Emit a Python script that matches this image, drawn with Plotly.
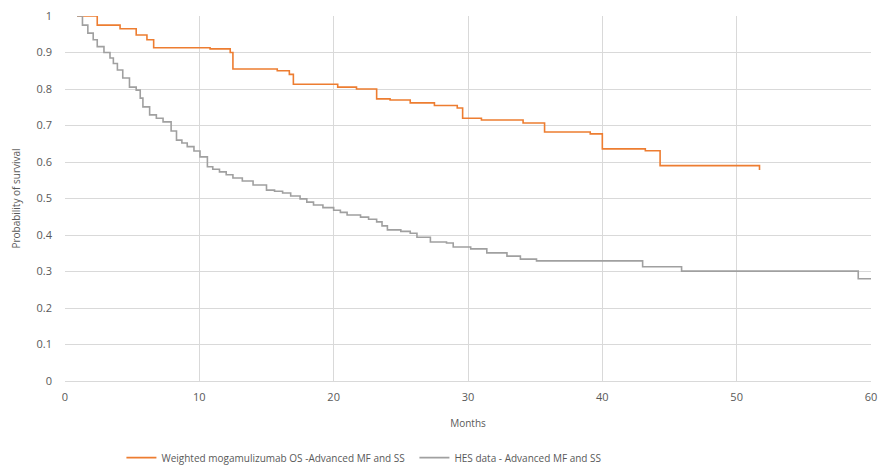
import plotly.graph_objects as go

orange_months = [0.9, 2.4, 4.1, 5.3, 6.1, 6.6, 10.8, 12.3, 12.5, 15.8, 16.7, 17.0, 20.3, 21.7,
                 23.2, 24.2, 25.7, 27.5, 29.2, 29.6, 31.0, 34.1, 35.7, 39.1, 40.0, 43.2, 44.3, 51.7]
orange_surv = [1.0, 0.975, 0.965, 0.948, 0.935, 0.913, 0.91, 0.90, 0.855, 0.85, 0.84, 0.813, 0.805, 0.80,
               0.773, 0.77, 0.762, 0.755, 0.748, 0.72, 0.715, 0.707, 0.682, 0.677, 0.636, 0.631, 0.59, 0.578]

gray_months = [0.9, 1.3, 1.7, 2.1, 2.4, 2.9, 3.35, 3.6, 3.9, 4.3, 4.8, 5.3, 5.6, 5.8, 6.3, 6.8, 7.3,
               7.9, 8.3, 8.7, 9.1, 9.6, 10.05, 10.6, 11.0, 11.5, 12.0, 12.5, 13.2, 14.0, 15.0, 15.6,
               16.2, 16.8, 17.5, 18.0, 18.5, 19.2, 20.0, 20.5, 21.0, 22.0, 22.6, 23.2, 23.6, 24.0,
               25.0, 25.7, 26.2, 27.2, 28.4, 28.9, 30.2, 31.4, 32.9, 33.9, 35.1, 43.0, 45.9, 59.05, 60.0]
gray_surv = [1.0, 0.975, 0.953, 0.935, 0.916, 0.90, 0.885, 0.87, 0.852, 0.83, 0.805, 0.797, 0.775,
             0.751, 0.729, 0.72, 0.71, 0.685, 0.66, 0.652, 0.642, 0.63, 0.614, 0.587, 0.58, 0.573,
             0.565, 0.556, 0.548, 0.537, 0.523, 0.52, 0.515, 0.507, 0.499, 0.49, 0.482, 0.475, 0.468,
             0.462, 0.455, 0.449, 0.443, 0.436, 0.425, 0.414, 0.41, 0.405, 0.394, 0.381, 0.378, 0.367,
             0.362, 0.351, 0.342, 0.334, 0.329, 0.313, 0.301, 0.28, 0.28]

x_ticks = [0, 10, 20, 30, 40, 50, 60]
y_ticks = [0, 0.1, 0.2, 0.3, 0.4, 0.5, 0.6, 0.7, 0.8, 0.9, 1]
y_tick_labels = ["0", "0.1", "0.2", "0.3", "0.4", "0.5", "0.6", "0.7", "0.8", "0.9", "1"]

fig = go.Figure()
fig.add_trace(go.Scatter(x=orange_months, y=orange_surv, mode="lines", line_shape="hv",
                         line=dict(color="#ED7D31", width=1.6),
                         name="Weighted mogamulizumab OS -Advanced MF and SS"))
fig.add_trace(go.Scatter(x=gray_months, y=gray_surv, mode="lines", line_shape="hv",
                         line=dict(color="#A0A0A0", width=1.6),
                         name="HES data - Advanced MF and SS"))

font_fam = "Open Sans, Liberation Sans, sans-serif"
fig.update_layout(
    width=878, height=470,
    margin=dict(l=65, r=7, t=16, b=89, autoexpand=False),
    paper_bgcolor="white", plot_bgcolor="white",
    font=dict(family=font_fam, size=11, color="#595959"),
    showlegend=True,
    legend=dict(orientation="h", x=0.07, xanchor="left", y=-0.21, yanchor="middle",
                font=dict(size=10, color="#595959"), itemwidth=30, tracegroupgap=0,
                entrywidth=248, entrywidthmode="pixels"),
    xaxis=dict(range=[0, 60], tickvals=x_ticks, showgrid=True, gridcolor="#D9D9D9", gridwidth=1,
               zeroline=False, showline=True, linecolor="#D9D9D9", ticks="", ticklabelstandoff=6,
               title=dict(text="Months", font=dict(size=10, color="#595959"), standoff=16)),
    yaxis=dict(range=[0, 1], tickvals=y_ticks, ticktext=y_tick_labels, showgrid=True,
               gridcolor="#D9D9D9", gridwidth=1, zeroline=False, showline=False, ticks="",
               ticklabelstandoff=12,
               title=dict(text="Probability of survival", font=dict(size=10, color="#595959"), standoff=14)),
)

fig.write_html("out.html")
